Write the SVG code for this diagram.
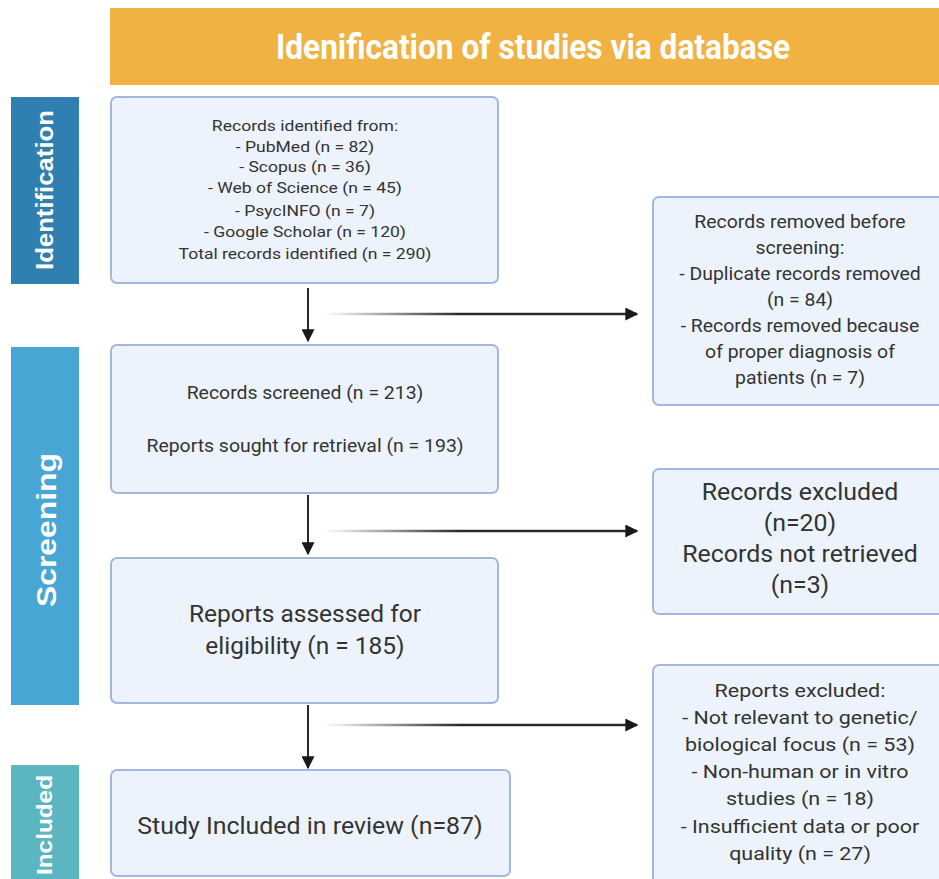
<svg xmlns="http://www.w3.org/2000/svg" width="939" height="879" viewBox="0 0 939 879">
<defs>
<style>
.box{fill:#EDF3FC;stroke:#A3B7DD;stroke-width:2}
.t{font-family:Roboto,"Liberation Sans",sans-serif;fill:#333333;text-anchor:middle}
.side{font-family:"Liberation Sans",Arial,sans-serif;font-weight:bold;fill:#FFFFFF;text-anchor:middle}
.v{stroke:#2a2a2a;stroke-width:2;fill:none}
.h{stroke:url(#fade);stroke-width:2.5;fill:none}
</style>
<linearGradient id="fade" gradientUnits="userSpaceOnUse" x1="325" y1="0" x2="460" y2="0">
<stop offset="0" stop-color="#2a2a2a" stop-opacity="0"/>
<stop offset="1" stop-color="#2a2a2a" stop-opacity="1"/>
</linearGradient>
<marker id="ah2" viewBox="0 0 10 10" refX="9" refY="5" markerWidth="13" markerHeight="13" markerUnits="userSpaceOnUse" orient="auto">
<path d="M0,0 L10,5 L0,10 Z" fill="#1a1a1a"/>
</marker>
</defs>
<rect width="939" height="879" fill="#FFFFFF"/>

<g id="header">
<rect x="110" y="8" width="829" height="77" fill="#F0B243"/>
<text x="533" y="59" font-family="Roboto,'Liberation Sans',sans-serif" font-weight="bold" font-size="35" fill="#FFFFFF" text-anchor="middle" textLength="514" lengthAdjust="spacingAndGlyphs">Idenification of studies via database</text>
</g>

<g id="phase-identification">
<rect x="11" y="97" width="68" height="187" fill="#2F80B0"/>
<text class="side" font-size="24" transform="translate(53,190) rotate(-90)" textLength="160" lengthAdjust="spacingAndGlyphs">Identification</text>
</g>
<g id="phase-screening">
<rect x="11" y="347" width="68" height="358" fill="#48A6D4"/>
<text class="side" font-size="28" transform="translate(56,530) rotate(-90)" textLength="154" lengthAdjust="spacingAndGlyphs">Screening</text>
</g>
<g id="phase-included">
<rect x="11" y="765" width="68" height="120" fill="#5CB6C2"/>
<text class="side" font-size="22" transform="translate(52,825) rotate(-90)" textLength="100" lengthAdjust="spacingAndGlyphs">Included</text>
</g>

<g id="connectors">
<line class="v" x1="308" y1="288" x2="308" y2="341" marker-end="url(#ah2)"/>
<line class="h" x1="325" y1="314" x2="637" y2="314" marker-end="url(#ah2)"/>
<line class="v" x1="308" y1="495" x2="308" y2="554" marker-end="url(#ah2)"/>
<line class="h" x1="325" y1="531" x2="637" y2="531" marker-end="url(#ah2)"/>
<line class="v" x1="308" y1="705" x2="308" y2="768" marker-end="url(#ah2)"/>
<line class="h" x1="325" y1="725" x2="637" y2="725" marker-end="url(#ah2)"/>
</g>

<g id="records-identified">
<rect class="box" x="111" y="97" width="387" height="186" rx="6"/>
<text class="t" font-size="15" transform="translate(305,0) scale(1.17,1) translate(-305,0)"><tspan x="305" y="131">Records identified from:</tspan><tspan x="305" y="152">- PubMed (n = 82)</tspan><tspan x="305" y="172">- Scopus (n = 36)</tspan><tspan x="305" y="193">- Web of Science (n = 45)</tspan><tspan x="305" y="216">- PsycINFO (n = 7)</tspan><tspan x="305" y="237">- Google Scholar (n = 120)</tspan><tspan x="305" y="259">Total records identified (n = 290)</tspan></text>
</g>

<g id="records-removed">
<rect class="box" x="653" y="197" width="300" height="208" rx="6"/>
<text class="t" font-size="17.5" transform="translate(800,0) scale(1.11,1) translate(-800,0)"><tspan x="800" y="228">Records removed before</tspan><tspan x="800" y="254">screening:</tspan><tspan x="800" y="280">- Duplicate records removed</tspan><tspan x="800" y="306">(n = 84)</tspan><tspan x="800" y="332">- Records removed because</tspan><tspan x="800" y="358">of proper diagnosis of</tspan><tspan x="800" y="384">patients (n = 7)</tspan></text>
</g>

<g id="records-screened">
<rect class="box" x="111" y="345" width="387" height="148" rx="6"/>
<text class="t" font-size="17.5" transform="translate(305,0) scale(1.11,1) translate(-305,0)"><tspan x="305" y="399">Records screened (n = 213)</tspan><tspan x="305" y="452">Reports sought for retrieval (n = 193)</tspan></text>
</g>

<g id="records-excluded">
<rect class="box" x="653" y="469" width="300" height="145" rx="6"/>
<text class="t" font-size="23.5" transform="translate(800,0) scale(1.06,1) translate(-800,0)"><tspan x="800" y="500">Records excluded</tspan><tspan x="800" y="531">(n=20)</tspan><tspan x="800" y="562">Records not retrieved</tspan><tspan x="800" y="593">(n=3)</tspan></text>
</g>

<g id="reports-assessed">
<rect class="box" x="111" y="558" width="387" height="145" rx="6"/>
<text class="t" font-size="24.5"><tspan x="305" y="622">Reports assessed for</tspan><tspan x="305" y="654">eligibility (n = 185)</tspan></text>
</g>

<g id="reports-excluded">
<rect class="box" x="653" y="665" width="300" height="230" rx="6"/>
<text class="t" font-size="18.5" transform="translate(800,0) scale(1.16,1) translate(-800,0)"><tspan x="800" y="697">Reports excluded:</tspan><tspan x="800" y="724">- Not relevant to genetic/</tspan><tspan x="800" y="751">biological focus (n = 53)</tspan><tspan x="800" y="778">- Non-human or in vitro</tspan><tspan x="800" y="805">studies (n = 18)</tspan><tspan x="800" y="833">- Insufficient data or poor</tspan><tspan x="800" y="860">quality (n = 27)</tspan></text>
</g>

<g id="study-included">
<rect class="box" x="111" y="770" width="399" height="106" rx="6"/>
<text class="t" font-size="23.5" x="310" y="834" transform="translate(310,0) scale(1.06,1) translate(-310,0)">Study Included in review (n=87)</text>
</g>
</svg>
